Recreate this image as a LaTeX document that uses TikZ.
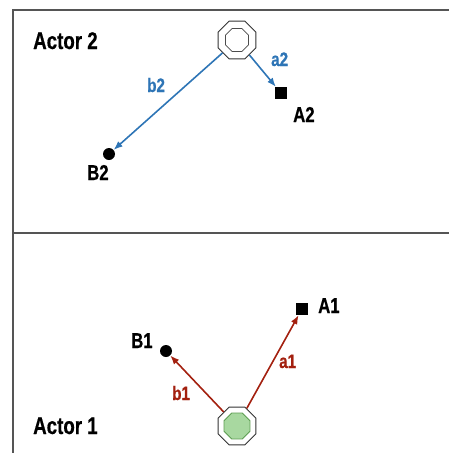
\documentclass[tikz,border=0pt]{standalone}
\usepackage{fontspec}
\newfontfamily\lbl[FakeStretch=0.78,FakeBold=0.6]{Liberation Sans}
\usetikzlibrary{shapes.geometric,arrows.meta}
\definecolor{bl}{HTML}{2E75B6}
\definecolor{rd}{HTML}{A3200F}
\definecolor{gf}{HTML}{A8D8A0}
\definecolor{gd}{HTML}{5E9E52}
\definecolor{frame}{HTML}{555555}
\begin{document}
\begin{tikzpicture}[x=1pt,y=-1pt,
  octo/.style={regular polygon,regular polygon sides=8,draw=black!80,line width=1pt,fill=white,minimum size=41pt,inner sep=0pt},
  inoct/.style={regular polygon,regular polygon sides=8,draw=black!70,line width=0.8pt,fill=white,minimum size=25pt,inner sep=0pt},
  greenoct/.style={regular polygon,regular polygon sides=8,draw=gd,line width=0.8pt,fill=gf,minimum size=28pt,inner sep=0pt},
  dot/.style={circle,fill=black,minimum size=12pt,inner sep=0pt},
  sq/.style={rectangle,fill=black,minimum size=12pt,inner sep=0pt},
  big/.style={font=\lbl\bfseries\fontsize{24}{26}\selectfont,inner sep=0pt,anchor=base west},
  pt/.style={font=\lbl\bfseries\fontsize{21.5}{24}\selectfont,inner sep=0pt,anchor=base west},
  arl/.style={font=\lbl\bfseries\fontsize{19.5}{22}\selectfont,inner sep=0pt,anchor=base west},
  arr/.style={line width=1.6pt,-{Latex[length=9pt,width=7pt]}}]
\useasboundingbox (0,0) rectangle (449,453);
\draw[frame,line width=1.6pt] (449,10) -- (13,10) -- (13,453);
\draw[frame,line width=1.6pt] (13,233) -- (449,233);
% Actor 2
\node[big] (act2) at (33,49) {Actor 2};
\node[octo] (o2) at (237,40) {};
\node[inoct] (o2i) at (237,40) {};
\node[sq] (A2) at (281,93) {};
\node[dot] (B2) at (109,154) {};
\node[pt] (A2l) at (293,122) {A2};
\node[pt] (B2l) at (87,180) {B2};
\draw[arr,bl] (o2) -- (B2);
\draw[arr,bl] (o2) -- (A2);
\node[arl,bl] (b2l) at (147,92) {b2};
\node[arl,bl] (a2l) at (271,66) {a2};
% Actor 1
\node[big] (act1) at (33,434) {Actor 1};
\node[octo] (o1) at (237,426) {};
\node[greenoct] (o1i) at (237,426) {};
\node[sq] (A1) at (302,309) {};
\node[dot] (B1) at (166,351) {};
\node[pt] (A1l) at (318,313) {A1};
\node[pt] (B1l) at (131,348) {B1};
\draw[arr,rd] (o1) -- (B1);
\draw[arr,rd] (o1) -- (A1);
\node[arl,rd] (b1l) at (172,400) {b1};
\node[arl,rd] (a1l) at (279,368) {a1};
\end{tikzpicture}
\end{document}
